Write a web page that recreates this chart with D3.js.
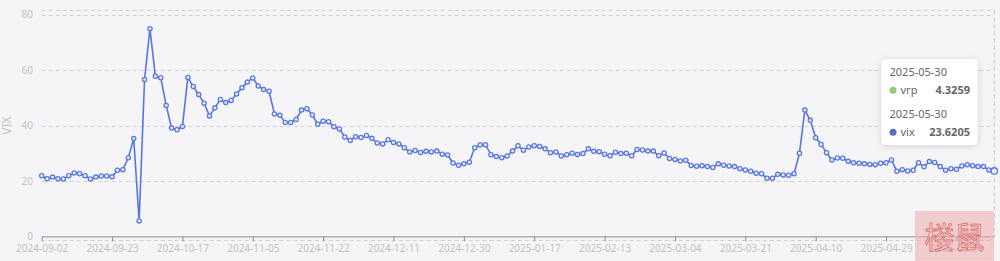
<!DOCTYPE html>
<html>
<head>
<meta charset="utf-8">
<script src="https://cdn.jsdelivr.net/npm/d3@7/dist/d3.min.js"></script>
<style>
  html, body { margin: 0; padding: 0; background: #f5f5f8; }
  svg { display: block; font-family: "Microsoft YaHei", "Noto Sans", sans-serif; }
</style>
</head>
<body>
<svg id="chart" width="1000" height="261"></svg>
<script>
// trading days 2024-09-02 .. 2025-05-30 (weekdays minus exchange holidays)
var startDay = "2024-09-02";
var endDay = "2025-05-30";
var holidays = ["2024-09-16", "2024-09-17", "2024-10-01", "2024-10-02", "2024-10-03",
    "2024-10-04", "2024-10-07", "2025-01-01", "2025-01-28", "2025-01-29", "2025-01-30",
    "2025-01-31", "2025-02-03", "2025-02-04", "2025-04-04", "2025-05-01", "2025-05-02",
    "2025-05-05"];

var tickLabels = ["2024-09-02", "2024-09-23", "2024-10-17", "2024-11-05", "2024-11-22",
    "2024-12-11", "2024-12-30", "2025-01-17", "2025-02-13", "2025-03-04", "2025-03-21",
    "2025-04-10", "2025-04-29", "2025-05-21"];

var yTicks = [0, 20, 40, 60, 80];

var vix = [21.9, 20.8, 21.4, 20.8, 20.7, 21.9, 22.9, 22.6, 21.9, 20.7,
    21.4, 21.8, 21.8, 21.5, 23.9, 24.1, 28.4, 35.3, 5.6, 56.6,
    75.0, 57.8, 57.3, 47.3, 39.1, 38.5, 39.7, 57.4, 54.1, 51.2,
    48.1, 43.5, 46.4, 49.4, 48.3, 49.1, 51.4, 53.7, 55.7, 57.2,
    54.3, 53.0, 52.4, 44.2, 43.7, 41.1, 41.1, 42.2, 45.6, 46.1,
    43.8, 40.5, 41.6, 41.4, 39.6, 38.8, 35.9, 34.6, 36.0, 35.7,
    36.4, 35.4, 33.7, 33.4, 34.9, 33.9, 33.4, 32.0, 30.5, 31.0,
    30.3, 30.7, 30.5, 30.8, 29.7, 29.4, 26.5, 25.7, 26.2, 26.8,
    32.0, 33.0, 33.1, 29.5, 28.8, 28.4, 29.0, 30.8, 32.7, 31.1,
    32.3, 32.7, 32.5, 31.6, 30.2, 30.5, 29.0, 29.5, 30.0, 29.6,
    29.9, 31.6, 30.7, 30.6, 29.7, 29.1, 30.4, 29.9, 30.0, 29.1,
    31.4, 31.2, 30.8, 30.8, 29.1, 30.1, 28.1, 27.8, 27.2, 27.5,
    25.6, 25.3, 25.5, 25.2, 24.9, 26.2, 25.7, 25.4, 25.2, 24.4,
    24.0, 23.5, 22.8, 22.6, 21.0, 21.0, 22.4, 22.2, 22.1, 22.6,
    30.0, 45.6, 41.9, 35.6, 33.2, 30.2, 27.6, 28.3, 28.2, 27.1,
    26.6, 26.4, 26.2, 26.0, 25.9, 26.4, 26.6, 27.6, 23.5, 24.1,
    23.6, 23.9, 26.6, 25.1, 27.0, 26.7, 25.2, 23.9, 24.4, 24.2,
    25.4, 25.9, 25.5, 25.2, 25.2, 24.0, 23.6205];

// tooltip shown for the last day
var tipDate = "2025-05-30";
var tipVrp = "4.3259";
var tipVix = "23.6205";

var fmt = d3.timeFormat("%Y-%m-%d");
var dates = d3.timeDay.range(new Date(startDay + "T00:00"), d3.timeDay.offset(new Date(endDay + "T00:00"), 1))
    .filter(function(d){ return d.getDay() > 0 && d.getDay() < 6; })
    .map(fmt)
    .filter(function(s){ return holidays.indexOf(s) < 0; });

var svg = d3.select("#chart");
var plotL = 41.7, plotR = 994.3, plotT = 14.8, plotB = 236.4;

var x = d3.scalePoint().domain(dates).range([plotL, plotR]);
var y = d3.scaleLinear().domain([0, 80]).range([plotB, plotT]);

var lineBlue = "#5877dc";

// split lines
svg.append("g").selectAll("line")
    .data(yTicks.slice(1))
  .enter().append("line")
    .attr("x1", plotL).attr("x2", plotR)
    .attr("y1", function(d){ return Math.round(y(d)) + 0.5; })
    .attr("y2", function(d){ return Math.round(y(d)) + 0.5; })
    .style("stroke", "#d2d2d6")
    .style("stroke-dasharray", "4,3");

// dashed frame (top / bottom) and pointer line at the hovered day
svg.append("line")
    .attr("x1", plotL).attr("x2", plotR).attr("y1", 10.5).attr("y2", 10.5)
    .style("stroke", "#d2d2d6").style("stroke-dasharray", "4,3");
svg.append("line")
    .attr("x1", plotL).attr("x2", plotR).attr("y1", 240.5).attr("y2", 240.5)
    .style("stroke", "#d2d2d6").style("stroke-dasharray", "4,3");
svg.append("line")
    .attr("x1", x(tipDate)).attr("x2", x(tipDate)).attr("y1", 10.5).attr("y2", plotB)
    .style("stroke", "#c8c8d0").style("stroke-dasharray", "4,3");

// y labels
svg.append("g").selectAll("text")
    .data(yTicks)
  .enter().append("text")
    .attr("x", 33)
    .attr("y", function(d){ return y(d); })
    .attr("dy", "0.35em")
    .attr("text-anchor", "end")
    .style("font-size", "10px")
    .style("fill", "#c2c2c6")
    .text(String);

svg.append("text")
    .attr("transform", "translate(11," + ((plotT + plotB) / 2) + ") rotate(-90)")
    .attr("text-anchor", "middle")
    .style("font-size", "12px")
    .style("fill", "#c2c2c6")
    .text("VIX");

// x axis
var xAxis = d3.axisBottom(x).tickValues(tickLabels).tickSize(5).tickSizeOuter(0).tickPadding(4);
var gx = svg.append("g")
    .attr("transform", "translate(0," + plotB + ")")
    .call(xAxis);
gx.select(".domain").style("stroke", "#8a8c94");
gx.selectAll(".tick line").style("stroke", "#8a8c94");
gx.selectAll(".tick text")
    .style("font-size", "10px")
    .style("fill", "#c2c2c6")
    .style("font-family", "\"Microsoft YaHei\", \"Noto Sans\", sans-serif");

// series
var line = d3.line()
    .x(function(d, i){ return x(dates[i]); })
    .y(function(d){ return y(d); });

svg.append("path")
    .datum(vix)
    .attr("d", line)
    .style("fill", "none")
    .style("stroke", lineBlue)
    .style("stroke-width", 1.6);

svg.append("g").selectAll("circle")
    .data(vix)
  .enter().append("circle")
    .attr("cx", function(d, i){ return x(dates[i]); })
    .attr("cy", function(d){ return y(d); })
    .attr("r", function(d, i){ return i === vix.length - 1 ? 3.2 : 2.1; })
    .style("fill", "#eef1fb")
    .style("stroke", lineBlue)
    .style("stroke-width", 1.3);

// tooltip
var defs = svg.append("defs");
var f = defs.append("filter").attr("id", "shadow").attr("x", "-20%").attr("y", "-20%")
    .attr("width", "140%").attr("height", "140%");
f.append("feDropShadow").attr("dx", 0).attr("dy", 1).attr("stdDeviation", 3)
    .attr("flood-color", "#000").attr("flood-opacity", 0.15);
var tip = svg.append("g").attr("transform", "translate(881.5,59)");
tip.append("rect")
    .attr("width", 96).attr("height", 86).attr("rx", 4)
    .style("fill", "#ffffff")
    .attr("filter", "url(#shadow)");

var rows = [
    { date: tipDate, name: "vrp", value: tipVrp, color: "#91cc75", y: 17 },
    { date: tipDate, name: "vix", value: tipVix, color: "#5470c6", y: 59 }
];
rows.forEach(function(r){
    tip.append("text").attr("x", 8).attr("y", r.y)
        .style("font-size", "11px").style("fill", "#666").text(r.date);
    tip.append("circle").attr("cx", 11.5).attr("cy", r.y + 14.3).attr("r", 3.5)
        .style("fill", r.color);
    tip.append("text").attr("x", 19).attr("y", r.y + 18)
        .style("font-size", "11px").style("fill", "#666").text(r.name);
    tip.append("text").attr("x", 88.5).attr("y", r.y + 18)
        .attr("text-anchor", "end")
        .style("font-size", "11px").style("font-weight", "bold").style("fill", "#666")
        .text(r.value);
});

// watermark seal
var wm = svg.append("g").attr("transform", "translate(915,211)");
wm.append("rect").attr("width", 79).attr("height", 50)
    .style("fill", "#eda5a5").style("fill-opacity", 0.5);
wm.append("rect").attr("x", 3).attr("y", 3).attr("width", 73).attr("height", 44)
    .style("fill", "none").style("stroke", "#f3c4c4").style("stroke-width", 1);
wm.append("text").attr("x", 39.5).attr("y", 37).attr("text-anchor", "middle")
    .style("font-size", "30px").style("fill", "#f8dede").style("fill-opacity", 0.7)
    .style("stroke", "#dc6b6b").style("stroke-width", 0.8)
    .style("font-family", "\"Noto Sans CJK SC\", sans-serif")
    .text("楼鼠");
</script>
</body>
</html>
